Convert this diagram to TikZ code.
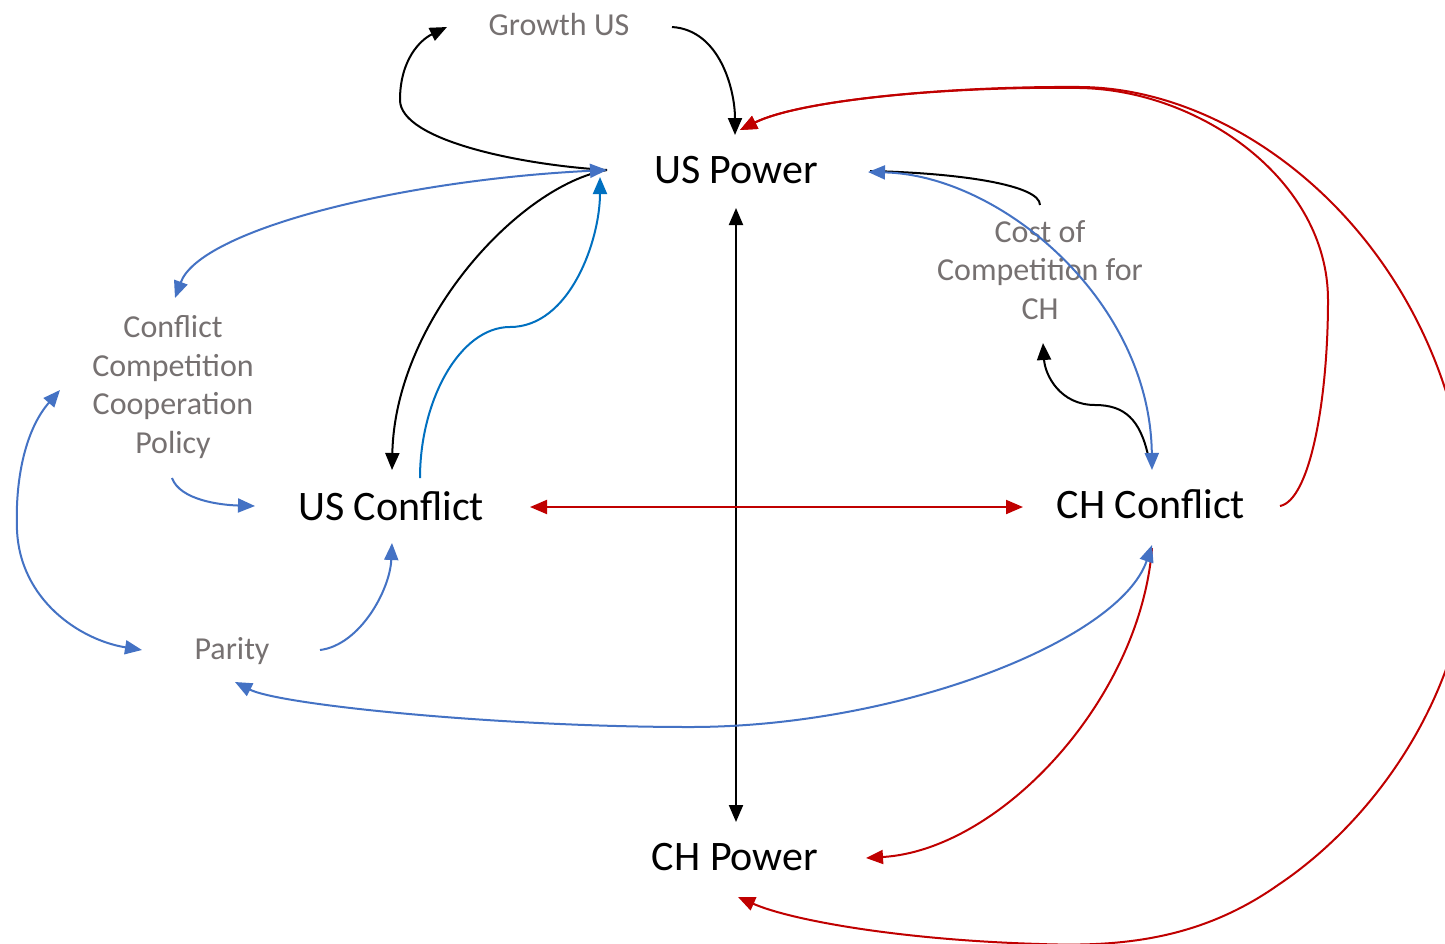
\documentclass[tikz,border=0pt]{standalone}
\usepackage{fontspec}
\setmainfont{Carlito}
\usetikzlibrary{arrows.meta,calc}
\definecolor{ublue}{HTML}{4472C4}
\definecolor{dblue}{HTML}{0070C0}
\definecolor{ured}{HTML}{C00000}
\definecolor{ugray}{HTML}{767171}
\tikzset{
  bigtext/.style={font=\fontsize{21}{25}\selectfont, text=black, inner sep=0pt, anchor=base},
  graytext/.style={font=\fontsize{16}{19.25}\selectfont, text=ugray, inner sep=0pt, align=center},
  conn/.style={line width=1pt},
  blk/.style={conn, draw=black},
  blu/.style={conn, draw=ublue},
  dblu/.style={conn, draw=dblue},
  rd/.style={conn, draw=ured},
  tipend/.style={-{Triangle[length=8.5pt,width=7pt]}},
  tipboth/.style={{Triangle[length=8.5pt,width=7pt]}-{Triangle[length=8.5pt,width=7pt]}},
}
\begin{document}
\begin{tikzpicture}[x=0.5pt,y=-0.5pt]
\useasboundingbox (0,0) rectangle (1445,943);
\fill[white] (0,0) rectangle (1445,943);
\begin{scope}
\clip (0,0) rectangle (1445,943);
% nodes
\node[graytext, anchor=base] (gus) at (559,35) {Growth US};
\node[bigtext] (usp) at (736,183) {US Power};
\node[bigtext] (usc) at (391,520) {US Conflict};
\node[bigtext] (chc) at (1151,518) {CH Conflict};
\node[graytext, anchor=base] (par) at (232,659) {Parity};
\node[bigtext] (chp) at (735,870) {CH Power};
\node[graytext] (cost) at (1040,270) {Cost of\\Competition for\\CH};
\node[graytext] (pol) at (173,387) {Conflict\\Competition\\Cooperation\\Policy};

% black connectors
\draw[blk, tipend] ($(usp.base)+(-129,-13)$) .. controls (520,165) and (400,140) .. (400,100)
   .. controls (400,60) and (420,40) .. ($(gus.base)+(-112,-8)$);
\draw[blk, tipend] ($(gus.base)+(113,-8)$) .. controls (720,30) and (735,90) .. ($(usp.base)+(-1,-48)$);
\draw[blk, tipboth] ($(usp.base)+(0,25)$) -- ($(chp.base)+(1,-48)$);
\draw[blk, tipend] ($(usp.base)+(-129,-13)$) .. controls (520,185) and (395,320) .. ($(usc.base)+(1,-50)$);
\draw[blk] ($(cost.center)+(0,-65)$) .. controls (1040,185) and (960,173) .. ($(usp.base)+(134,-12)$);
\draw[blk, tipend] ($(chc.base)+(-3,-63)$) .. controls (1140,420) and (1125,405) .. (1095,405)
   .. controls (1060,405) and (1045,375) .. ($(cost.center)+(3,73)$);

% red connectors
\draw[rd, tipboth] ($(usc.base)+(139,-13)$) -- ($(chc.base)+(-128,-11)$);
\draw[rd, tipend] ($(chc.base)+(129,-12)$) .. controls (1310,500) and (1328,400) .. (1328,300)
   .. controls (1328,180) and (1200,90) .. (1080,88)
   .. controls (950,86) and (800,100) .. ($(usp.base)+(4,-53)$);
\draw[rd, tipboth] ($(usp.base)+(4,-53)$) .. controls (800,100) and (950,86) .. (1080,87)
   .. controls (1250,88) and (1445,250) .. (1468,500)
   .. controls (1485,660) and (1390,810) .. (1278,885)
   .. controls (1200,940) and (1120,947) .. (1040,944)
   .. controls (900,940) and (790,920) .. ($(chp.base)+(3,27)$);
\draw[rd, tipend] ($(chc.base)+(1,30)$) .. controls (1140,700) and (1000,850) .. ($(chp.base)+(131,-12)$);

% blue connectors
\draw[blu, tipboth] ($(pol.center)+(2,-89)$) .. controls (200,230) and (400,180) .. ($(usp.base)+(-129,-13)$);
\draw[dblu, tipend] ($(usc.base)+(29,-42)$) .. controls (420,400) and (460,327) .. (510,327)
   .. controls (570,327) and (600,240) .. ($(usp.base)+(-136,-6)$);
\draw[blu, tipboth] ($(usp.base)+(132,-11)$) .. controls (1000,175) and (1150,300) .. ($(chc.base)+(1,-48)$);
\draw[blu, tipend] ($(pol.center)+(-1,91)$) .. controls (180,500) and (220,505) .. ($(usc.base)+(-136,-14)$);
\draw[blu, tipboth] ($(pol.center)+(-113,3)$) .. controls (25,430) and (15,480) .. (17,530)
   .. controls (20,600) and (80,640) .. ($(par.base)+(-90,-9)$);
\draw[blu, tipend] ($(par.base)+(88,-9)$) .. controls (360,645) and (390,590) .. ($(usc.base)+(1,23)$);
\draw[blu, tipboth] ($(chc.base)+(1,27)$) .. controls (1120,640) and (900,727) .. (690,727)
   .. controls (500,727) and (280,705) .. ($(par.base)+(3,23)$);
\end{scope}
\end{tikzpicture}
\end{document}
